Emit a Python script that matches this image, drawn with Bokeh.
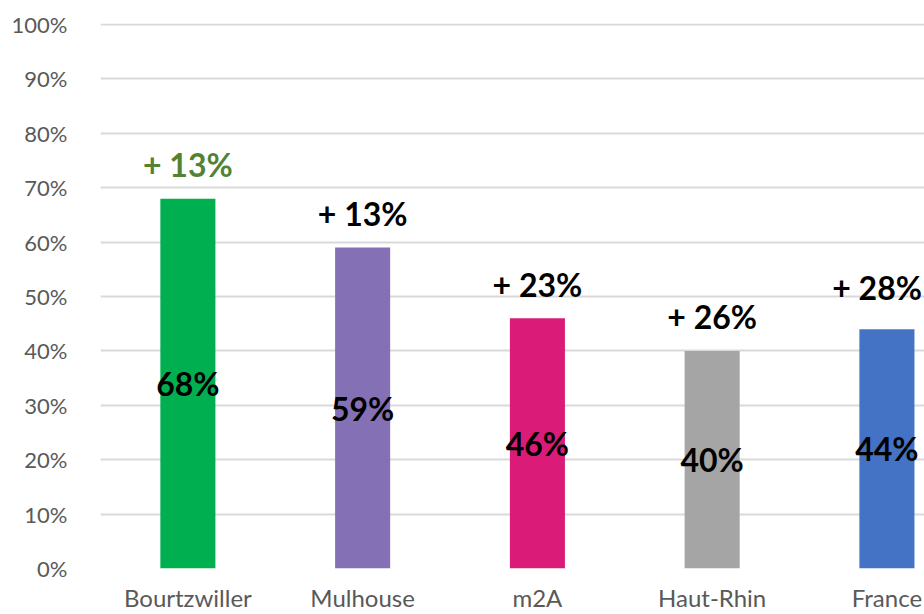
from bokeh.plotting import figure
from bokeh.models import ColumnDataSource, Range1d, FixedTicker, PrintfTickFormatter, LabelSet
from bokeh.core.properties import value
from bokeh.embed import file_html
from bokeh.resources import INLINE

categories = ["Bourtzwiller", "Mulhouse", "m2A", "Haut-Rhin", "France"]
values = [68, 59, 46, 40, 44]
value_labels = ["68%", "59%", "46%", "40%", "44%"]
growth_labels = ["+ 13%", "+ 13%", "+ 23%", "+ 26%", "+ 28%"]
bar_colors = ["#00B050", "#8470B4", "#DA1C78", "#A5A5A5", "#4472C4"]
growth_colors = ["#548235", "#000000", "#000000", "#000000", "#000000"]
y_ticks = [0, 10, 20, 30, 40, 50, 60, 70, 80, 90, 100]

FONT = "Lato"
n = len(categories)

src = ColumnDataSource(dict(
    x=list(range(n)),
    top=values,
    mid=[v / 2 for v in values],
    vlab=value_labels,
    color=bar_colors,
))
# growth labels: all but the last centred; the last one (at the right edge) right-aligned
g_src = ColumnDataSource(dict(x=list(range(n - 1)), top=values[:-1],
                              glab=growth_labels[:-1], gcolor=growth_colors[:-1]))
g_last = ColumnDataSource(dict(x=[n - 1], top=values[-1:],
                               glab=growth_labels[-1:], gcolor=growth_colors[-1:]))

p = figure(width=924, height=614, output_backend="svg", toolbar_location=None,
           x_range=Range1d(-0.5, 4.215), y_range=Range1d(0, 100.2),
           min_border_left=100, min_border_right=0, min_border_top=23, min_border_bottom=44)
p.outline_line_color = None
p.background_fill_color = "white"
p.border_fill_color = "white"

p.vbar(x="x", top="top", bottom=0, width=0.315, color="color", line_color=None, source=src)

p.add_layout(LabelSet(x="x", y="mid", text="vlab", source=src, text_align="center",
                      text_baseline="middle", text_font=value(FONT), text_font_style="bold",
                      text_font_size="32px", text_color="black"))
p.add_layout(LabelSet(x="x", y="top", text="glab", source=g_src, text_align="center",
                      text_baseline="middle", y_offset=34, text_font=value(FONT),
                      text_font_style="bold", text_font_size="32px", text_color="gcolor"))
p.add_layout(LabelSet(x="x", y="top", text="glab", source=g_last, text_align="right",
                      text_baseline="middle", x_offset=35, y_offset=42, text_font=value(FONT),
                      text_font_style="bold", text_font_size="32px", text_color="gcolor"))

p.xgrid.grid_line_color = None
p.ygrid.grid_line_color = "#D9D9D9"
p.ygrid.grid_line_width = 2
p.ygrid.ticker = FixedTicker(ticks=y_ticks)

p.yaxis.ticker = FixedTicker(ticks=y_ticks)
p.yaxis.formatter = PrintfTickFormatter(format="%d%%")
p.yaxis.axis_line_color = None
p.yaxis.major_tick_line_color = None
p.yaxis.minor_tick_line_color = None
p.yaxis.major_label_standoff = 27
p.yaxis.major_label_text_font = FONT
p.yaxis.major_label_text_font_size = "22px"
p.yaxis.major_label_text_color = "#595959"

p.xaxis.ticker = FixedTicker(ticks=list(range(n)))
p.xaxis.major_label_overrides = {i: c for i, c in enumerate(categories)}
p.xaxis.axis_line_color = None
p.xaxis.major_tick_line_color = None
p.xaxis.minor_tick_line_color = None
p.xaxis.major_label_standoff = 8
p.xaxis.major_label_text_font = FONT
p.xaxis.major_label_text_font_size = "24px"
p.xaxis.major_label_text_color = "#595959"

open("out.html", "w").write(file_html(p, INLINE))
